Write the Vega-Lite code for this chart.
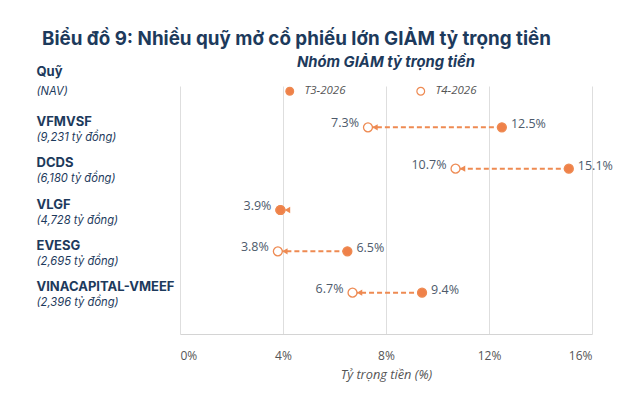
{
  "$schema": "https://vega.github.io/schema/vega-lite/v6.json",
  "padding": {"left": 36, "top": 30, "right": 10, "bottom": 5},
  "background": "white",
  "title": {
    "text": "Biểu đồ 9: Nhiều quỹ mở cổ phiếu lớn GIẢM tỷ trọng tiền",
    "anchor": "start",
    "dx": 6,
    "font": "Inter",
    "fontSize": 18.8,
    "fontWeight": "bold",
    "color": "#1d3a5c",
    "offset": 6
  },
  "data": {
    "values": [
      {"quy": "VFMVSF", "nav": "(9,231 tỷ đồng)", "T3-2026": 0.125, "T4-2026": 0.073},
      {"quy": "DCDS", "nav": "(6,180 tỷ đồng)", "T3-2026": 0.151, "T4-2026": 0.107},
      {"quy": "VLGF", "nav": "(4,728 tỷ đồng)", "T3-2026": 0.039, "T4-2026": 0.039},
      {"quy": "EVESG", "nav": "(2,695 tỷ đồng)", "T3-2026": 0.065, "T4-2026": 0.038},
      {"quy": "VINACAPITAL-VMEEF", "nav": "(2,396 tỷ đồng)", "T3-2026": 0.094, "T4-2026": 0.067}
    ]
  },
  "config": {
    "view": {"stroke": null},
    "font": "Open Sans"
  },
  "vconcat": [
    {
      "title": {
        "text": "Nhóm GIẢM tỷ trọng tiền",
        "anchor": "middle",
        "frame": "group",
        "font": "Inter",
        "fontSize": 14.8,
        "fontWeight": "bold",
        "fontStyle": "italic",
        "color": "#1d3a5c",
        "offset": -5
      },
      "width": 412,
      "height": 248,
      "layer": [
        {
          "encoding": {
            "y": {
              "field": "quy",
              "type": "nominal",
              "sort": ["VFMVSF", "DCDS", "VLGF", "EVESG", "VINACAPITAL-VMEEF"],
              "scale": {"type": "point", "padding": 1},
              "axis": {
                "orient": "left",
                "domain": false,
                "ticks": false,
                "tickSize": 0,
                "grid": false,
                "labelAlign": "left",
                "labelPadding": 144,
                "labelOffset": -6,
                "labelFont": "Inter",
                "labelFontSize": 13,
                "labelFontWeight": "bold",
                "labelColor": "#1d3a5c",
                "labelLimit": 300,
                "title": "Quỹ",
                "titleAngle": 0,
                "titleAlign": "left",
                "titleBaseline": "middle",
                "titleX": -144,
                "titleY": -15,
                "titleFont": "Inter",
                "titleFontSize": 13,
                "titleFontWeight": "bold",
                "titleColor": "#1d3a5c"
              }
            }
          },
          "layer": [
            {
              "mark": {"type": "rule", "strokeDash": [5, 3], "strokeWidth": 2, "color": "#ee8a52"},
              "encoding": {
                "x": {
                  "field": "T3-2026",
                  "type": "quantitative",
                  "scale": {"domain": [0, 0.16], "nice": false},
                  "axis": {
                    "values": [0, 0.04, 0.08, 0.12, 0.16],
                    "format": "%",
                    "grid": true,
                    "gridColor": "#dedede",
                    "domainColor": "#d4d4d4",
                    "ticks": false,
                    "labelPadding": 16,
                    "labelFontSize": 12,
                    "labelColor": "#555555",
                    "title": "Tỷ trọng tiền (%)",
                    "titleFontSize": 12.8,
                    "titleFontWeight": "normal",
                    "titleFontStyle": "italic",
                    "titleColor": "#555555",
                    "titlePadding": 7
                  }
                },
                "x2": {"field": "T4-2026"}
              }
            },
            {
              "mark": {"type": "point", "shape": "triangle-left", "filled": true, "size": 40, "color": "#ee8a52", "opacity": 1, "xOffset": 7},
              "encoding": {"x": {"field": "T4-2026", "type": "quantitative"}}
            },
            {
              "transform": [{"fold": ["T4-2026", "T3-2026"], "as": ["period", "value"]}],
              "mark": {"type": "point", "shape": "circle", "size": 80, "stroke": "#ee8a52", "strokeWidth": 1.3, "opacity": 1, "fillOpacity": 1},
              "encoding": {
                "x": {"field": "value", "type": "quantitative"},
                "fill": {
                  "field": "period",
                  "type": "nominal",
                  "scale": {"domain": ["T3-2026", "T4-2026"], "range": ["#ef8149", "#ffffff"]},
                  "legend": {
                    "orient": "none",
                    "legendX": 104,
                    "legendY": -1,
                    "direction": "horizontal",
                    "title": null,
                    "symbolType": "circle",
                    "symbolSize": 60,
                    "symbolStrokeColor": "#ee8a52",
                    "symbolStrokeWidth": 1.2,
                    "labelFontStyle": "italic",
                    "labelFontSize": 11.5,
                    "labelColor": "#555555",
                    "labelOffset": 9,
                    "columnPadding": 68
                  }
                }
              }
            },
            {
              "mark": {"type": "text", "align": "left", "dx": 9, "dy": -3, "fontSize": 12.5, "color": "#4d5a6b"},
              "encoding": {
                "x": {"field": "T3-2026", "type": "quantitative"},
                "text": {
                  "condition": {"test": "datum['T3-2026'] == datum['T4-2026']", "value": ""},
                  "field": "T3-2026",
                  "type": "quantitative",
                  "format": ".1%"
                }
              }
            }
          ]
        },
        {
          "mark": {"type": "text", "align": "right", "dx": -9, "dy": -4, "fontSize": 12.5, "color": "#4d5a6b"},
          "encoding": {
            "x": {"field": "T4-2026", "type": "quantitative"},
            "y": {
              "field": "nav",
              "type": "nominal",
              "sort": ["(9,231 tỷ đồng)", "(6,180 tỷ đồng)", "(4,728 tỷ đồng)", "(2,695 tỷ đồng)", "(2,396 tỷ đồng)"],
              "scale": {"type": "point", "padding": 1},
              "axis": {
                "orient": "left",
                "domain": false,
                "ticks": false,
                "tickSize": 0,
                "grid": false,
                "labelAlign": "left",
                "labelPadding": 144,
                "labelOffset": 10,
                "labelFont": "Inter",
                "labelFontSize": 11.2,
                "labelFontStyle": "italic",
                "labelColor": "#1d3a5c",
                "labelLimit": 300,
                "title": "(NAV)",
                "titleAngle": 0,
                "titleAlign": "left",
                "titleBaseline": "middle",
                "titleX": -144,
                "titleY": 5,
                "titleFont": "Inter",
                "titleFontSize": 11.2,
                "titleFontWeight": "normal",
                "titleFontStyle": "italic",
                "titleColor": "#1d3a5c"
              }
            },
            "text": {"field": "T4-2026", "type": "quantitative", "format": ".1%"}
          }
        }
      ],
      "resolve": {"scale": {"y": "independent"}}
    }
  ]
}
